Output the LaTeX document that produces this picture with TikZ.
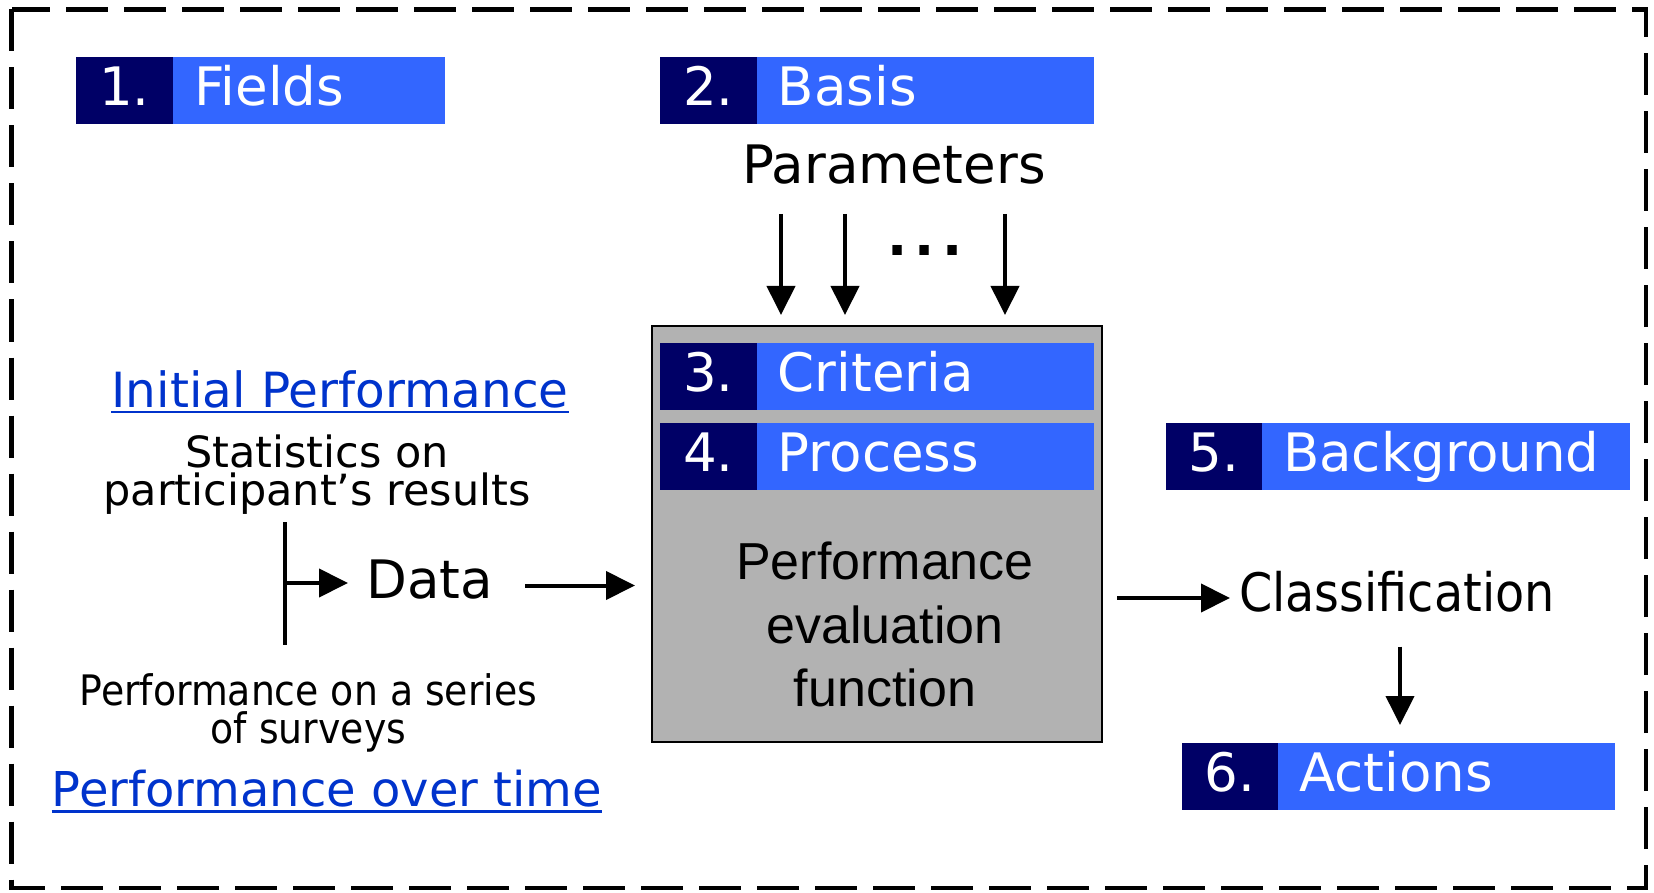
\documentclass[tikz,border=0pt]{standalone}
\usepackage{fontspec}
\setmainfont{DejaVu Sans}
\newfontfamily\dv{DejaVu Sans}
\newfontfamily\dvc{DejaVu Sans Condensed}
\newfontfamily\lib{Liberation Sans}
\usetikzlibrary{arrows.meta}
\definecolor{navy}{HTML}{000066}
\definecolor{bblue}{HTML}{3366FF}
\definecolor{gbox}{HTML}{B2B2B2}
\definecolor{linkblue}{HTML}{0033CC}
\newcommand{\myfs}[2]{\fontsize{#1}{#2}\selectfont}
% name, x-left, dark width, total width, y-top, number, label
\newcommand{\badge}[7]{%
  \node[badgedark, minimum width=#3pt, anchor=north west] (#1-num) at (#2,#5) {};
  \node[badgeblue, minimum width={(#4-#3)*1pt}, anchor=north west] (#1-box) at (#2+#3,#5) {};
  \node[badgetext, anchor=base] (#1-n) at (#2+#3/2,#5+49) {#6};
  \node[badgetext, anchor=base west] (#1-l) at (#2+#3+21,#5+49) {#7};
}
\begin{document}
\begin{tikzpicture}[x=1pt,y=-1pt,
  badgedark/.style={fill=navy, inner sep=0, minimum height=67.3pt, draw=none},
  badgeblue/.style={fill=bblue, inner sep=0, minimum height=67.3pt, draw=none},
  badgetext/.style={text=white, inner sep=0, font=\dv\myfs{53}{53}},
  arr/.style={line width=4pt, -{Triangle[length=29pt,width=28pt]}},
  plain/.style={inner sep=0, text=black},
  linktext/.style={inner sep=0, text=linkblue},
  uline/.style={draw=linkblue, line width=2.8pt}]
\useasboundingbox (0,0) rectangle (1654,893);
% outer dashed frame
\draw[line width=4.5pt, dash pattern=on 42pt off 16pt] (11.5,9.5) rectangle (1646,888);

% gray evaluation box
\node[draw=black, line width=2pt, fill=gbox, minimum width=449.4pt, minimum height=415.7pt, inner sep=0] (eval) at (877,533.85) {};

\badge{b1}{76}{97}{369}{57}{1.}{Fields}
\badge{b2}{660}{96.7}{434}{57}{2.}{Basis}
\badge{b3}{660}{96.7}{434}{342.3}{3.}{Criteria}
\badge{b4}{660}{96.7}{434}{422.3}{4.}{Process}
\badge{b5}{1165.5}{96.4}{464}{422.3}{5.}{Background}
\badge{b6}{1181.5}{96.3}{433}{742.3}{6.}{Actions}

% parameters
\node[plain, anchor=base, font=\dv\myfs{53}{53}] (params) at (894,183.3) {Parameters};
\node[plain, font=\dv\bfseries\myfs{53}{53}] (dots) at (925,250.7) {.\hspace{7pt}.\hspace{7pt}.};
\coordinate (pa1) at (781,214);
\coordinate (pa2) at (845,214);
\coordinate (pa3) at (1005,214);
\draw[arr, shorten >=10pt] (pa1) -- (pa1 |- eval.north);
\draw[arr, shorten >=10pt] (pa2) -- (pa2 |- eval.north);
\draw[arr, shorten >=10pt] (pa3) -- (pa3 |- eval.north);

% evaluation text (anchor base = baseline of the last line)
\node[plain, align=center, anchor=base, font=\lib\myfs{52}{63.7}] (pef) at (885,706.7) {Performance\\evaluation\\function};

% left side
\node[linktext, anchor=base, font=\dv\myfs{48.5}{48.5}] (ip) at (340,407.3) {Initial Performance};
\draw[uline] ([yshift=-4.7pt]ip.base west) -- ([yshift=-4.7pt]ip.base east);
\node[plain, align=center, anchor=base, font=\dv\myfs{43}{37.7}] (stat) at (317,505) {Statistics on\\participant’s results};
\coordinate (bt) at (285,522);
\coordinate (bb) at (285,645);
\coordinate (bm) at (285,583);
\draw[line width=4pt] (bt) -- (bb);
\node[plain, anchor=base west, font=\dv\myfs{53}{53}] (data) at (366,598) {Data};
\draw[arr, shorten >=18pt] (bm) -- (bm -| data.west);
\coordinate (da) at (525,585.5);
\draw[arr, shorten >=16.3pt] (da) -- (da -| eval.west);
\node[plain, align=center, anchor=base, font=\dvc\myfs{42}{37.6}] (series) at (308.5,743.3) {Performance on a series\\of surveys};
\node[linktext, anchor=base, font=\dv\myfs{48}{48}] (pot) at (327,806.7) {Performance over time};
\draw[uline] ([yshift=-4.7pt]pot.base west) -- ([yshift=-4.7pt]pot.base east);

% right side
\node[plain, anchor=base west, font=\dvc\myfs{53}{53}] (class) at (1239,611.7) {Classification};
\coordinate (ca) at (1117,598);
\draw[arr, shorten >=9pt] (ca) -- (ca -| class.west);
\coordinate (cb) at (1400,646.7);
\draw[arr, shorten >=17.3pt] (cb) -- (cb |- b6-num.north);
\end{tikzpicture}
\end{document}
